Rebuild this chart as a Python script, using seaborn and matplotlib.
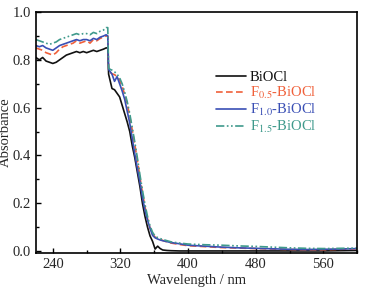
import numpy as np
import pandas as pd
import matplotlib
matplotlib.use("Agg")
import matplotlib.pyplot as plt
import seaborn as sns
from matplotlib.ticker import MultipleLocator

# ---- data ----
wavelength = [220, 224, 228, 232, 236, 240, 244, 248, 252, 256, 260, 264, 268, 272, 276,
              280, 284, 288, 292, 296, 300, 303, 305, 306, 308, 310, 313, 316, 319, 322,
              325, 328, 331, 334, 337, 340, 343, 346, 349, 352, 355, 358, 361, 364, 367,
              370, 375, 380, 390, 400, 420, 440, 460, 480, 500, 520, 540, 560, 580, 600]

biocl = [0.81, 0.80, 0.81, 0.795, 0.79, 0.785, 0.79, 0.80, 0.81, 0.82, 0.825, 0.83, 0.835, 0.83, 0.835,
         0.83, 0.835, 0.84, 0.835, 0.84, 0.845, 0.85, 0.85, 0.74, 0.71, 0.68, 0.675, 0.66, 0.645, 0.61,
         0.575, 0.54, 0.50, 0.44, 0.39, 0.33, 0.27, 0.20, 0.145, 0.10, 0.063, 0.04, 0.008, 0.02, 0.01,
         0.004, 0.002, 0.001, 0.0, 0.0, 0.0, 0.0, 0.0, 0.0, 0.0, 0.0, 0.0, 0.0, 0.001, 0.002]

f05 = [0.85, 0.845, 0.84, 0.83, 0.825, 0.82, 0.83, 0.845, 0.855, 0.86, 0.865, 0.87, 0.88, 0.87, 0.875,
       0.88, 0.87, 0.885, 0.88, 0.89, 0.895, 0.90, 0.90, 0.755, 0.748, 0.742, 0.738, 0.73, 0.715, 0.69,
       0.655, 0.615, 0.565, 0.505, 0.445, 0.38, 0.31, 0.245, 0.185, 0.135, 0.095, 0.07, 0.058, 0.052, 0.048,
       0.044, 0.038, 0.033, 0.027, 0.022, 0.018, 0.014, 0.012, 0.010, 0.008, 0.006, 0.005, 0.005, 0.007, 0.009]

f10 = [0.86, 0.855, 0.86, 0.85, 0.845, 0.84, 0.85, 0.86, 0.865, 0.87, 0.875, 0.88, 0.885, 0.88, 0.885,
       0.885, 0.88, 0.89, 0.885, 0.895, 0.90, 0.905, 0.90, 0.76, 0.75, 0.74, 0.71, 0.73, 0.70, 0.67,
       0.635, 0.585, 0.535, 0.47, 0.405, 0.345, 0.29, 0.225, 0.17, 0.13, 0.095, 0.065, 0.055, 0.05, 0.046,
       0.043, 0.039, 0.035, 0.03, 0.024, 0.02, 0.016, 0.013, 0.011, 0.009, 0.007, 0.006, 0.007, 0.008, 0.010]

f15 = [0.885, 0.88, 0.875, 0.87, 0.865, 0.87, 0.875, 0.885, 0.89, 0.895, 0.90, 0.905, 0.91, 0.905, 0.91,
       0.91, 0.905, 0.915, 0.91, 0.92, 0.925, 0.935, 0.935, 0.765, 0.76, 0.757, 0.75, 0.74, 0.725, 0.70,
       0.665, 0.625, 0.575, 0.515, 0.455, 0.39, 0.32, 0.255, 0.195, 0.145, 0.105, 0.078, 0.062, 0.056, 0.052,
       0.048, 0.043, 0.038, 0.033, 0.029, 0.026, 0.024, 0.021, 0.019, 0.016, 0.013, 0.011, 0.010, 0.011, 0.012]

labels = ["BiOCl", r"F$_{0.5}$-BiOCl", r"F$_{1.0}$-BiOCl", r"F$_{1.5}$-BiOCl"]
colors = ["#111111", "#f0603a", "#3a4fb5", "#3f9a8c"]
dashes = [(), (4, 2), (), (5, 1.5, 1, 1.5, 1, 1.5)]

rows = []
for lab, vals in zip(labels, [biocl, f05, f10, f15]):
    for w, v in zip(wavelength, vals):
        rows.append({"Wavelength": w, "Absorbance": v, "Sample": lab})
df = pd.DataFrame(rows)

sns.set_style("ticks")
plt.rcParams["font.family"] = ["Liberation Serif", "DejaVu Serif"]
plt.rcParams["mathtext.fontset"] = "stix"

fig = plt.figure(figsize=(3.74, 2.88), dpi=100)
ax = fig.add_axes([0.096, 0.122, 0.859, 0.836])

sns.lineplot(data=df, x="Wavelength", y="Absorbance", hue="Sample", style="Sample",
             hue_order=labels, style_order=labels, palette=colors, dashes=dashes,
             linewidth=1.2, ax=ax, legend=True)

ax.set_xlim(220, 600)
ax.set_ylim(-0.008, 1.0)
ax.xaxis.set_major_locator(MultipleLocator(80))
ax.xaxis.set_minor_locator(MultipleLocator(40))
ax.yaxis.set_major_locator(MultipleLocator(0.2))
ax.yaxis.set_minor_locator(MultipleLocator(0.1))
ax.yaxis.set_major_formatter(matplotlib.ticker.FormatStrFormatter("%.1f"))
ax.set_xticks([240, 320, 400, 480, 560])
ax.tick_params(which="both", direction="in", labelsize=10.5, width=1, color="black")
ax.tick_params(which="major", length=3.5)
ax.tick_params(which="minor", length=2)
for s in ax.spines.values():
    s.set_linewidth(1.2)
    s.set_color("black")

ax.set_xlabel("Wavelength / nm", fontsize=10.5, labelpad=2)
ax.set_ylabel("Absorbance", fontsize=10.5)
ax.yaxis.set_label_coords(-0.074, 0.5)

leg = ax.legend(loc="upper left", bbox_to_anchor=(0.53, 0.80), frameon=False,
                fontsize=10.5, handlelength=2.0, handletextpad=0.3, labelspacing=0.08,
                borderpad=0.2)
for txt, c in zip(leg.get_texts(), colors):
    txt.set_color(c)

fig.savefig("out.png", dpi=100)
